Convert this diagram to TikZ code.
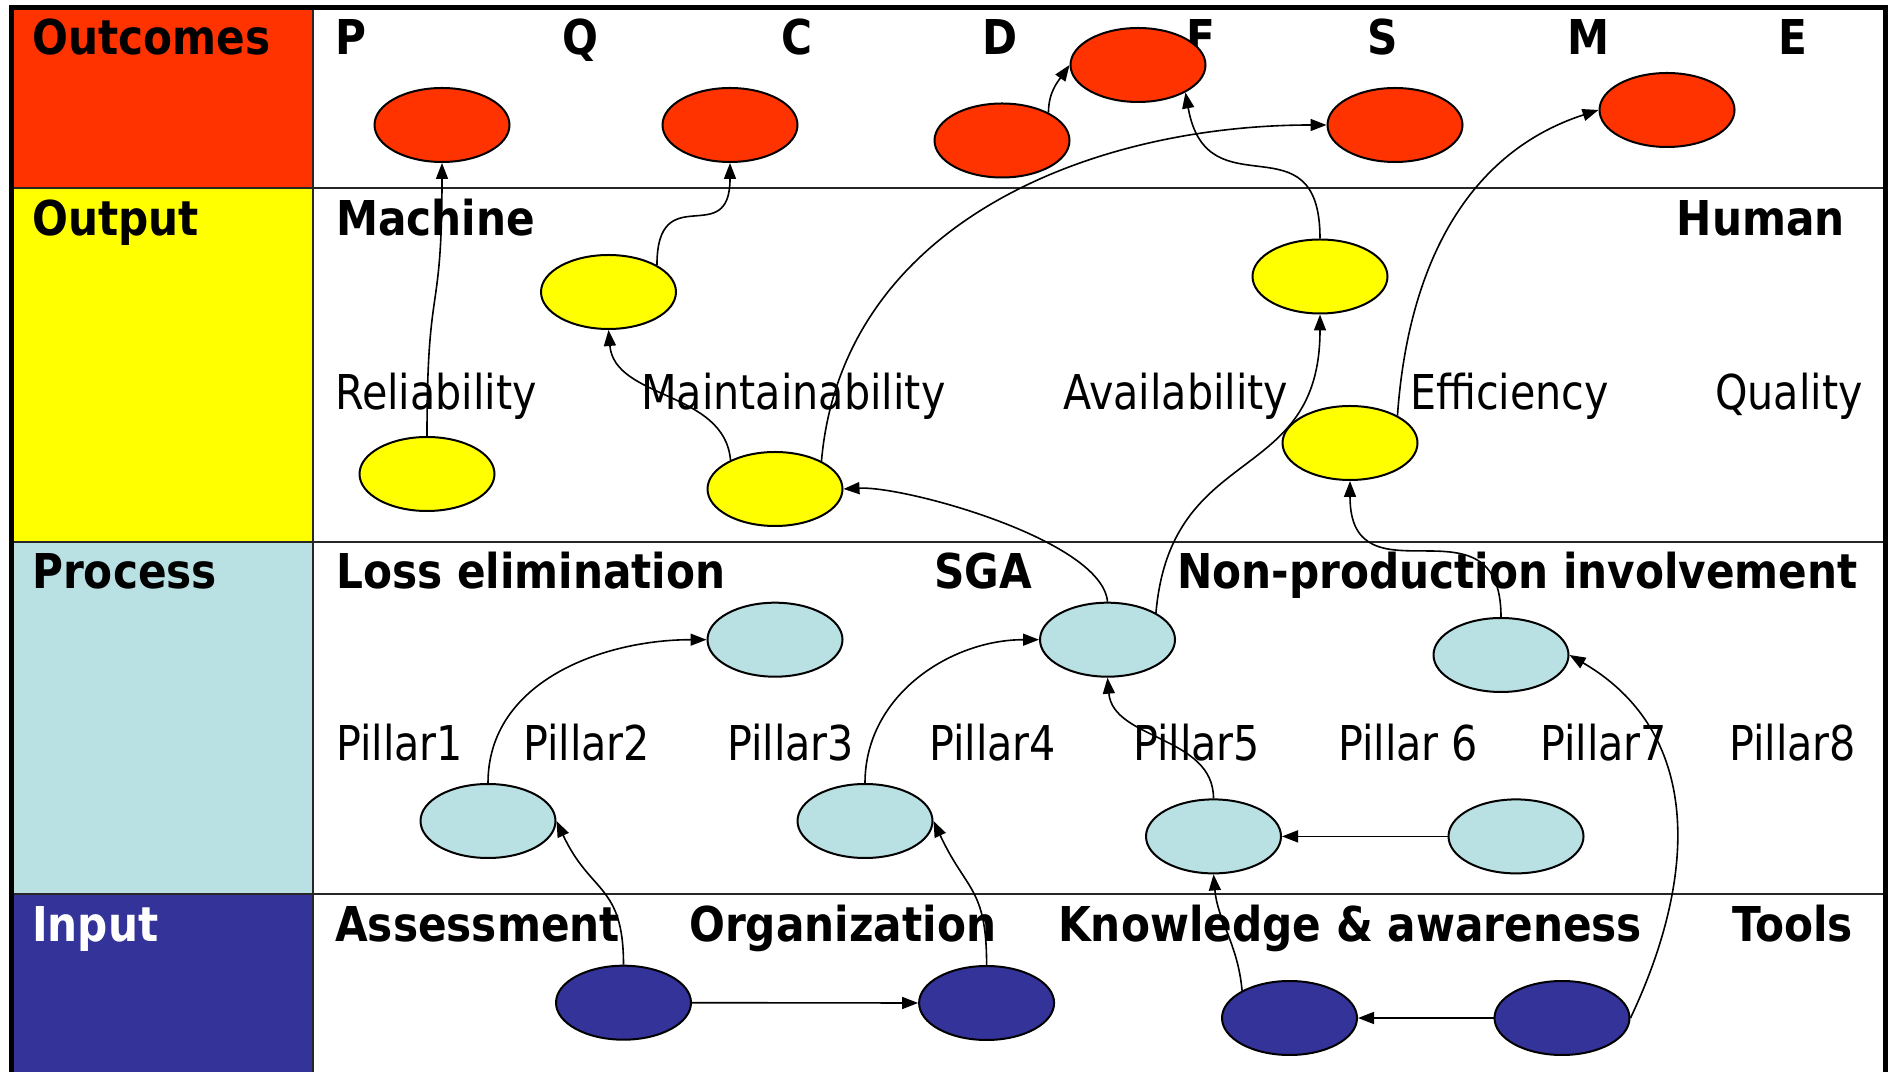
\documentclass[tikz,border=0pt]{standalone}
\usepackage{fontspec}
\setmainfont{DejaVu Sans}[FakeStretch=0.86,BoldFeatures={FakeStretch=0.88}]
\usetikzlibrary{arrows.meta,shapes.geometric}
\definecolor{outcomered}{HTML}{FF3300}
\definecolor{outputyellow}{HTML}{FFFF00}
\definecolor{processblue}{HTML}{B9E0E3}
\definecolor{inputblue}{HTML}{333399}

\begin{document}
\begin{tikzpicture}[x=1pt,y=1pt]

\tikzset{head/.style={anchor=base west,inner sep=0pt,font=\fontsize{48}{58}\selectfont\bfseries},
  word/.style={anchor=base west,inner sep=0pt,font=\fontsize{48}{58}\selectfont},
  blob/.style={ellipse,draw,line width=2pt,minimum width=135pt,minimum height=74pt,inner sep=0pt},
  link/.style={line width=1.6pt,-{Triangle[length=16pt,width=12pt]}},
  rowline/.style={line width=2.5pt,draw=black!85}}

\useasboundingbox (0,0) rectangle (1890,1071);

\fill[outcomered] (11.5,883) rectangle (313,1063.5);
\fill[outputyellow] (11.5,529) rectangle (313,883);
\fill[processblue] (11.5,177) rectangle (313,529);
\fill[inputblue] (11.5,-5) rectangle (313,177);

\draw[rowline] (313,-5) -- (313,1063.5);
\draw[rowline] (11.5,883) -- (1885,883);
\draw[rowline] (11.5,529) -- (1885,529);
\draw[rowline] (11.5,177) -- (1885,177);
\draw[line width=5pt] (11.5,-5) -- (11.5,1063.5) -- (1885,1063.5) -- (1885,-5);

% row titles
\node[head] (outcomes) at (32,1016.5) {Outcomes};
\node[head] (output) at (32,835) {Output};
\node[head] (process) at (32,482.3) {Process};
\node[head,text=white] (input) at (32,129) {Input};

\node[head] (lP) at (335,1016.5) {P};
\node[head] (lQ) at (562,1016.5) {Q};
\node[head] (lC) at (781,1016.5) {C};
\node[head] (lD) at (982,1016.5) {D};
\node[head] (lF) at (1186,1016.5) {F};
\node[head] (lS) at (1367,1016.5) {S};
\node[head] (lM) at (1567,1016.5) {M};
\node[head] (lE) at (1778,1016.5) {E};

\node[head] (machine) at (336,835) {Machine};
\node[head,anchor=base east] (human) at (1845,835) {Human};
\node[word] (reliability) at (335,661) {Reliability};
\node[word] (maintainability) at (641,661) {Maintainability};
\node[word] (availability) at (1063,661) {Availability};
\node[word] (efficiency) at (1410,661) {Efficiency};
\node[word] (quality) at (1715,661) {Quality};

\node[head] (losselim) at (336,482.3) {Loss elimination};
\node[head] (sga) at (934,482.3) {SGA};
\node[head] (nonprod) at (1177,482.3) {Non-production involvement};
\node[word] (pillar1) at (336,310.5) {Pillar1};
\node[word] (pillar2) at (523,310.5) {Pillar2};
\node[word] (pillar3) at (727,310.5) {Pillar3};
\node[word] (pillar4) at (929,310.5) {Pillar4};
\node[word] (pillar5) at (1133,310.5) {Pillar5};
\node[word] (pillar6) at (1338,310.5) {Pillar 6};
\node[word] (pillar7) at (1540,310.5) {Pillar7};
\node[word] (pillar8) at (1729,310.5) {Pillar8};

\node[head] (assessment) at (335,129) {Assessment};
\node[head] (organization) at (689,129) {Organization};
\node[head] (knowledge) at (1058,129) {Knowledge \& awareness};
\node[head] (tools) at (1732,129) {Tools};

% ellipses
\node[blob,fill=outcomered] (outP) at (442,946) {};
\node[blob,fill=outcomered] (outC) at (730,946) {};
\node[blob,fill=outcomered] (outD) at (1002,930.5) {};
\node[blob,fill=outcomered] (outF) at (1138,1006) {};
\node[blob,fill=outcomered] (outS) at (1395,946) {};
\node[blob,fill=outcomered] (outM) at (1667,961) {};

\node[blob,fill=outputyellow] (yRel) at (427,597) {};
\node[blob,fill=outputyellow] (yMainA) at (608.5,779) {};
\node[blob,fill=outputyellow] (yMainB) at (775,582) {};
\node[blob,fill=outputyellow] (yAvail) at (1320,794.5) {};
\node[blob,fill=outputyellow] (yEff) at (1350,628) {};

\node[blob,fill=processblue] (pLoss) at (775,431.3) {};
\node[blob,fill=processblue] (pOne) at (488,250) {};
\node[blob,fill=processblue] (pThree) at (865,250) {};
\node[blob,fill=processblue] (pSGA) at (1107.5,431.3) {};
\node[blob,fill=processblue] (pNon) at (1501,416) {};
\node[blob,fill=processblue] (pFive) at (1213.5,234.6) {};
\node[blob,fill=processblue] (pSix) at (1516,234.6) {};

\node[blob,fill=inputblue] (inAss) at (623.5,68.3) {};
\node[blob,fill=inputblue] (inOrg) at (986.6,68) {};
\node[blob,fill=inputblue] (inKnow) at (1289.5,53) {};
\node[blob,fill=inputblue] (inTools) at (1562,53) {};

% arrows
\draw[link] (yRel.north) to[out=90,in=-90,looseness=1.5] (outP.south);
\draw[link] (yMainB.147) to[out=95,in=-85] (yMainA.south);
\draw[link] (yMainA.29) to[out=90,in=-90,looseness=1.8] (outC.south);
\draw[link] (yMainB.31) to[out=85,in=180] (outS.west);
\draw[link] (outD.31) to[out=90,in=235] (outF.west);
\draw[link] (yAvail.north) to[out=90,in=-80,looseness=1.6] (outF.-30);
\draw[link] (yEff.30) to[out=86,in=198] (outM.west);

\draw[link] (pSGA.north) to[out=95,in=3,looseness=0.55] (yMainB.east);
\draw[link] (pSGA.29) to[out=85,in=-90,looseness=1.3] (yAvail.south);
\draw[link] (pNon.north) to[out=90,in=-90,looseness=1.6] (yEff.south);

\draw[link] (pOne.north) to[out=90,in=180] (pLoss.west);
\draw[link] (pThree.north) to[out=90,in=180] (pSGA.west);
\draw[link] (pFive.north) to[out=90,in=-85] (pSGA.south);
\draw[link] (pSix.west) -- (pFive.east);

\draw[link] (inAss.north) to[out=90,in=-65,looseness=1.3] (pOne.east);
\draw[link] (inAss.east) -- (inOrg.west);
\draw[link] (inOrg.north) to[out=90,in=-65,looseness=1.3] (pThree.east);
\draw[link] (inKnow.150) to[out=95,in=-85] (pFive.south);
\draw[link] (inTools.west) -- (inKnow.east);
\draw[link] (inTools.east) .. controls (1700,200) and (1700,340) .. (pNon.east);

\end{tikzpicture}
\end{document}
